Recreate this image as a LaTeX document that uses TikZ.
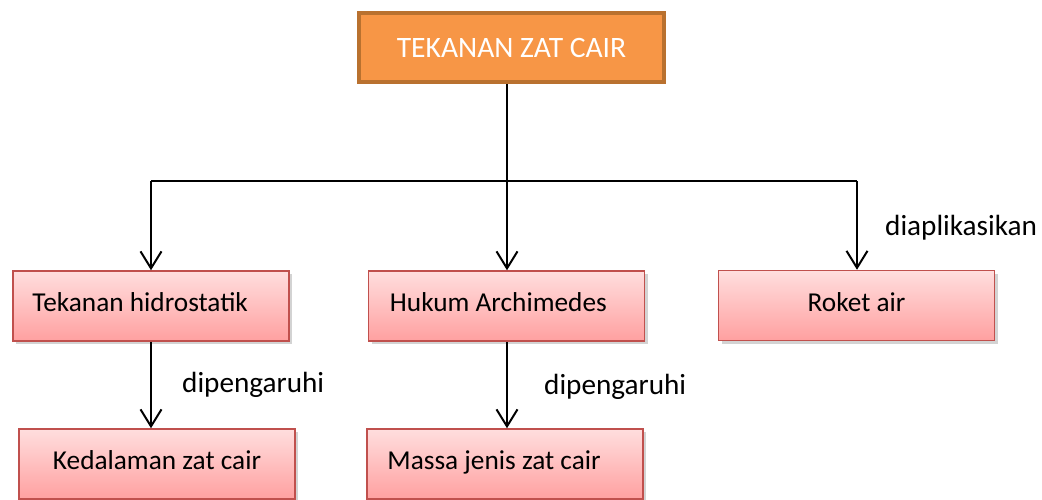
\documentclass[tikz,border=0pt]{standalone}
\usepackage{fontspec}
\setmainfont{Carlito}
\usetikzlibrary{arrows.meta,shadows,calc}
\definecolor{topfill}{HTML}{F79646}
\definecolor{topdraw}{HTML}{B9712F}
\definecolor{boxtop}{HTML}{FFDEDE}
\definecolor{boxbot}{HTML}{FFA0A0}
\definecolor{boxdraw}{HTML}{C0504D}
\tikzset{
  topbox/.style={rectangle, fill=topfill, draw=topdraw, line width=4.5pt,
    minimum width=305pt, minimum height=69pt, inner sep=0pt,
    text=white, font=\fontsize{29.6}{32}\selectfont},
  pinkbox/.style={rectangle, top color=boxtop, bottom color=boxbot, draw=boxdraw,
    line width=1.5pt, minimum width=276pt, minimum height=70pt, inner sep=0pt,
    drop shadow={opacity=0.35, shadow xshift=3pt, shadow yshift=-3pt}},
  boxtext/.style={font=\fontsize{27.3}{30}\selectfont, inner sep=0pt},
  lbl/.style={font=\fontsize{29.2}{31}\selectfont, inner sep=0pt},
  conn/.style={line width=2pt, black},
  arr/.style={conn, -{Straight Barb[length=17pt, width=21pt, line width=2pt]}},
}
\begin{document}
\begin{tikzpicture}[x=1pt, y=-1pt]
\useasboundingbox (0,0) rectangle (1042,499);
% top
\node[topbox] (top) at (511.5,47.5) {TEKANAN ZAT CAIR};
% boxes
\node[pinkbox, label={[boxtext, anchor=west]west:\hspace*{20pt}\raisebox{7pt}{Tekanan hidrostatik}}] (hid) at (151,306) {};
\node[pinkbox, label={[boxtext, anchor=west]west:\hspace*{22pt}\raisebox{7pt}{Hukum Archimedes}}] (arc) at (506.5,306) {};
\node[pinkbox, label={[boxtext]center:\raisebox{6pt}{Roket air}}] (rok) at (856.5,305.5) {};
\node[pinkbox, label={[boxtext]center:\raisebox{7pt}{Kedalaman zat cair}}] (ked) at (157,464) {};
\node[pinkbox, label={[boxtext, anchor=west]west:\hspace*{21pt}\raisebox{7pt}{Massa jenis zat cair}}] (mas) at (505,464) {};
% connectors
\coordinate (hj) at (507,181);
\coordinate (hl) at (151,181);
\coordinate (hr) at (857,181);
\draw[conn] (top.south -| hj) -- (hj);
\draw[conn] (hl) -- (hr);
\draw[arr] (hl) -- (hl |- hid.north);
\draw[arr] (hj) -- (hj |- arc.north);
\draw[arr] (hr) -- (hr |- rok.north);
\draw[arr] (hid.south -| hl) -- (hl |- ked.north);
\draw[arr] (arc.south -| hj) -- (hj |- mas.north);
% labels
\node[lbl, anchor=west] (l1) at (182,385) {dipengaruhi};
\node[lbl, anchor=west] (l2) at (544,387) {dipengaruhi};
\node[lbl, anchor=west] (l3) at (885,228) {diaplikasikan};
\end{tikzpicture}
\end{document}
